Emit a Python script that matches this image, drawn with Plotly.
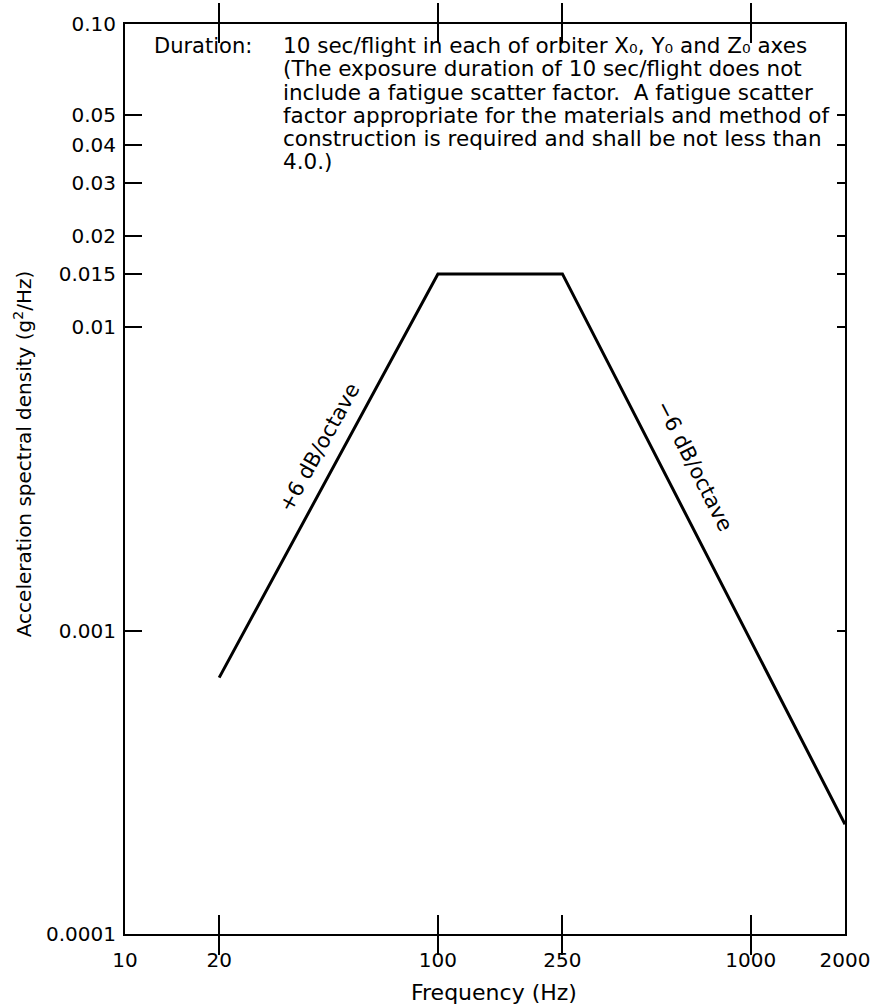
import plotly.graph_objects as go
import math

# Random vibration spectrum: breakpoints (Hz) and acceleration spectral density (g^2/Hz)
freq_hz = [20, 100, 250, 2000]
asd_g2hz = [0.0007, 0.015, 0.015, 0.00023]

# Axis ticks
x_tickvals = [10, 20, 100, 250, 1000, 2000]
x_ticktext = ["10", "20", "100", "250", "1000", "2000"]
y_tickvals = [0.0001, 0.001, 0.01, 0.015, 0.02, 0.03, 0.04, 0.05, 0.1]
y_ticktext = ["0.0001", "0.001", "0.01", "0.015", "0.02", "0.03", "0.04", "0.05", "0.10"]

x_title = "Frequency (Hz)"
y_title = "Acceleration spectral density (g<sup>2</sup>/Hz)"

# Note block in the upper part of the plot
note_head = "Duration:"
note_lines = [
    "10 sec/flight in each of orbiter X\u2080, Y\u2080 and Z\u2080 axes",
    "(The exposure duration of 10 sec/flight does not",
    "include a fatigue scatter factor.  A fatigue scatter",
    "factor appropriate for the materials and method of",
    "construction is required and shall be not less than",
    "4.0.)",
]
slope_up = "+6 dB/octave"
slope_down = "\u22126 dB/octave"

FONT = "DejaVu Sans"
W, H = 882, 1008
M = dict(l=125, r=34, t=13, b=74)
x_range = [math.log10(10), math.log10(2000)]
y_range = [math.log10(0.0001), math.log10(0.1)]

fig = go.Figure()
fig.add_trace(go.Scatter(
    x=freq_hz, y=asd_g2hz, mode="lines",
    line=dict(color="black", width=3), hoverinfo="skip", showlegend=False,
))
# carrier trace for the right-hand tick axis
fig.add_trace(go.Scatter(
    x=freq_hz, y=asd_g2hz, mode="lines", yaxis="y2",
    line=dict(color="rgba(0,0,0,0)", width=0), hoverinfo="skip", showlegend=False,
))

fig.update_layout(
    width=W, height=H, margin=M,
    paper_bgcolor="white", plot_bgcolor="white",
    font=dict(family=FONT, size=20, color="black"),
    xaxis=dict(
        type="log", range=x_range, tickmode="array",
        tickvals=x_tickvals, ticktext=x_ticktext,
        ticks="inside", ticklen=19, tickwidth=2, tickcolor="black",
        showline=True, linecolor="black", linewidth=2, mirror="allticks",
        showgrid=False, zeroline=False, ticklabelstandoff=7,
        tickfont=dict(size=20),
    ),
    yaxis=dict(
        type="log", range=y_range, tickmode="array",
        tickvals=y_tickvals, ticktext=y_ticktext,
        ticks="inside", ticklen=17, tickwidth=2, tickcolor="black",
        showline=True, linecolor="black", linewidth=2, mirror=True,
        showgrid=False, zeroline=False, ticklabelstandoff=3,
        tickfont=dict(size=20),
    ),
    yaxis2=dict(
        type="log", range=y_range, overlaying="y", side="right",
        tickmode="array", tickvals=y_tickvals[1:-1],
        ticks="inside", ticklen=8, tickwidth=2, tickcolor="black",
        showticklabels=False, showline=True, linecolor="black", linewidth=2,
        showgrid=False, zeroline=False,
    ),
)

# Helpers: pixel position -> paper fraction
def px_to_paper_x(px):
    return (px - M["l"]) / (W - M["l"] - M["r"])

def px_to_paper_y(py):
    return 1 - (py - M["t"]) / (H - M["t"] - M["b"])

# Axis titles
fig.add_annotation(
    text=x_title, xref="paper", yref="paper",
    x=px_to_paper_x(496), y=px_to_paper_y(993),
    xanchor="center", yanchor="middle", showarrow=False, font=dict(size=22),
)
fig.add_annotation(
    text=y_title, xref="paper", yref="paper", textangle=-90,
    x=px_to_paper_x(22), y=px_to_paper_y(448),
    xanchor="center", yanchor="middle", showarrow=False, font=dict(size=20),
)

# Note text
fig.add_annotation(
    text=note_head, xref="paper", yref="paper",
    x=px_to_paper_x(152), y=px_to_paper_y(35),
    xanchor="left", yanchor="middle", showarrow=False, font=dict(size=21),
)
line_y = [35, 58.5, 82, 105.5, 129, 152.5]
for txt, py in zip(note_lines, line_y):
    fig.add_annotation(
        text=txt, xref="paper", yref="paper",
        x=px_to_paper_x(282), y=px_to_paper_y(py),
        xanchor="left", yanchor="middle", showarrow=False, font=dict(size=21.5),
    )

# Slope labels alongside the rising and falling segments
fig.add_annotation(
    text=slope_up, xref="x", yref="y",
    x=math.log10(41.7), y=math.log10(0.0040),
    textangle=-61, showarrow=False, font=dict(size=21),
)
fig.add_annotation(
    text=slope_down, xref="x", yref="y",
    x=math.log10(661), y=math.log10(0.0035),
    textangle=63, showarrow=False, font=dict(size=21),
)

fig.write_html("out.html")
